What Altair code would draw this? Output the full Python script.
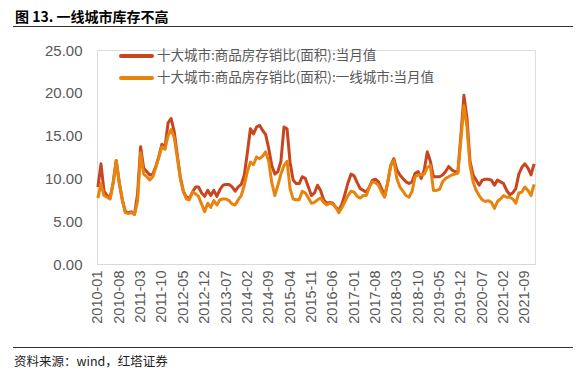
import altair as alt
import pandas as pd

# ---- data ----
months = [f"{y}-{m:02d}" for y in range(2010, 2022) for m in range(1, 13)]

series_r_name = "十大城市:商品房存销比(面积):当月值"
series_o_name = "十大城市:商品房存销比(面积):一线城市:当月值"

series_r = [
    9.0, 11.7, 8.5, 8.0, 7.7, 9.5, 12.1, 9.5, 7.5, 6.1, 6.0, 6.1,
    5.8, 8.2, 13.7, 11.2, 10.8, 10.4, 10.5, 11.4, 12.6, 14.0, 13.6, 16.5,
    17.0, 15.5, 12.8, 10.2, 8.5, 7.8, 7.7, 8.4, 9.0, 9.0, 8.3, 7.9,
    8.6, 8.0, 8.6, 7.9, 8.7, 9.2, 9.3, 9.3, 9.0, 8.5, 9.0, 9.3,
    10.4, 13.0, 15.8, 15.2, 16.0, 16.2, 15.6, 15.1, 13.5, 11.5, 10.5, 10.8,
    12.0, 16.0, 15.8, 11.9, 9.8, 9.4, 9.4, 10.2, 10.0, 9.0, 8.0, 8.3,
    9.2, 8.6, 7.5, 7.1, 7.2, 7.1, 6.6, 6.3, 7.0, 8.2, 9.5, 10.5,
    10.3, 9.5, 8.8, 8.6, 8.4, 9.0, 9.8, 9.9, 9.6, 8.8, 7.9, 9.5,
    11.5, 12.3, 11.0, 10.4, 10.0, 9.6, 9.4, 9.6, 10.6, 10.8, 10.0, 11.0,
    13.1, 12.0, 10.2, 10.2, 10.2, 10.4, 10.8, 11.4, 11.0, 10.8, 10.7, 15.0,
    19.7, 17.0, 12.0, 10.4, 9.8, 9.2, 9.8, 9.9, 9.9, 9.8, 9.2, 9.8,
    9.6, 9.4, 8.6, 8.1, 8.3, 8.8, 10.5, 11.3, 11.7, 11.2, 10.4, 11.7,
]

series_o = [
    7.7, 9.4, 8.0, 7.8, 7.6, 9.5, 12.1, 9.5, 7.5, 6.0, 5.9, 6.0,
    5.8, 7.3, 13.0, 10.5, 10.2, 9.8, 10.2, 11.3, 12.5, 13.7, 13.4, 15.0,
    15.7, 14.8, 12.5, 10.0, 8.5, 7.6, 7.5, 8.4, 8.2, 7.9, 7.0, 6.1,
    7.1, 6.6, 7.4, 6.9, 7.5, 7.6, 7.6, 7.4, 7.0, 6.9, 7.5, 8.0,
    9.2, 10.8, 11.9, 11.6, 12.5, 12.3, 12.6, 13.1, 12.0, 9.5, 8.0, 9.2,
    10.5, 11.5, 12.0, 8.8, 7.6, 7.5, 7.5, 8.5, 8.3, 7.7, 7.1, 7.2,
    7.5, 7.7, 7.2, 6.9, 7.1, 7.0, 6.6, 6.0, 6.6, 7.3, 8.0, 8.5,
    8.4, 7.9, 7.7, 8.0, 8.0, 9.0, 9.6, 9.5, 9.2, 8.4, 7.8, 9.5,
    11.5, 12.1, 10.0, 9.0, 8.5, 8.0, 7.8, 8.5, 10.2, 10.4, 10.4, 10.5,
    11.3, 11.5, 8.6, 8.6, 8.7, 9.6, 10.0, 10.2, 10.4, 10.5, 10.6, 14.5,
    18.5, 16.0, 11.5, 9.6, 8.6, 8.0, 7.5, 7.3, 7.4, 7.2, 6.5, 7.3,
    7.6, 8.0, 7.8, 7.8, 7.6, 7.1, 8.3, 8.4, 9.0, 8.6, 8.0, 9.3,
]

y_ticks = [0, 5, 10, 15, 20, 25]
x_ticks = months[::7]

title_text = "图 13. 一线城市库存不高"
source_text = "资料来源：wind，红塔证券"

RED = "#C9451F"
ORANGE = "#E8830E"
FONT = "Noto Sans CJK SC"

df_r = pd.DataFrame({"month": months, "value": series_r})
df_o = pd.DataFrame({"month": months, "value": series_o})

W, H = 438, 214

x_enc = alt.X(
    "month:O",
    scale=alt.Scale(type="point", padding=0.3),
    axis=alt.Axis(
        values=x_ticks, title=None, labelAngle=270, ticks=False,
        labelFont="Liberation Sans", labelFontSize=14.5, labelColor="#595959",
        labelPadding=6, domainColor="#D9D9D9", domainWidth=1, grid=False,
        labelOverlap=False,
    ),
)
y_enc = alt.Y(
    "value:Q",
    scale=alt.Scale(domain=[0, 25], nice=False, zero=True),
    axis=alt.Axis(
        values=y_ticks, format=".2f", title=None, domain=False, ticks=False,
        grid=False, labelFont="Liberation Sans", labelFontSize=15,
        labelColor="#595959", labelPadding=15,
    ),
)

line_r = alt.Chart(df_r).mark_line(color=RED, strokeWidth=3, strokeJoin="round").encode(x=x_enc, y=y_enc)
line_o = alt.Chart(df_o).mark_line(color=ORANGE, strokeWidth=3, strokeJoin="round").encode(x=x_enc, y=y_enc)

one = alt.Data(values=[{"a": 1}])

def legend_item(color, label, yy):
    sym = alt.Chart(one).mark_rule(color=color, strokeWidth=4, strokeCap="round").encode(
        x=alt.value(24), x2=alt.value(55), y=alt.value(yy)
    )
    txt = alt.Chart(one).mark_text(
        text=label, align="left", baseline="middle", font=FONT, fontSize=13.5, color="#595959"
    ).encode(x=alt.value(60), y=alt.value(yy))
    return sym + txt

leg1 = legend_item(RED, series_r_name, 6)
leg2 = legend_item(ORANGE, series_o_name, 28)

title = alt.Chart(one).mark_text(
    text=title_text, align="left", baseline="top", font=FONT, fontSize=14,
    fontWeight="bold", color="#000000"
).encode(x=alt.value(-82), y=alt.value(-39))

top_rule = alt.Chart(one).mark_rule(color="#333333", strokeWidth=1).encode(
    x=alt.value(-84), x2=alt.value(478), y=alt.value(-23.5)
)
bottom_rule = alt.Chart(one).mark_rule(color="#333333", strokeWidth=1).encode(
    x=alt.value(-84), x2=alt.value(478), y=alt.value(297.5)
)
source = alt.Chart(one).mark_text(
    text=source_text, align="left", baseline="middle", font=FONT, fontSize=12.5,
    color="#222222"
).encode(x=alt.value(-83), y=alt.value(312))

chart = alt.layer(
    line_r, line_o, leg1, leg2, title, top_rule, bottom_rule, source
).properties(
    width=W, height=H,
    autosize=alt.AutoSizeParams(type="none"),
    padding={"left": 89, "top": 42, "right": 38, "bottom": 107},
).configure_view(stroke=None).configure(background="white")

chart.save("out.html", embed_options={"renderer": "svg", "actions": False})
